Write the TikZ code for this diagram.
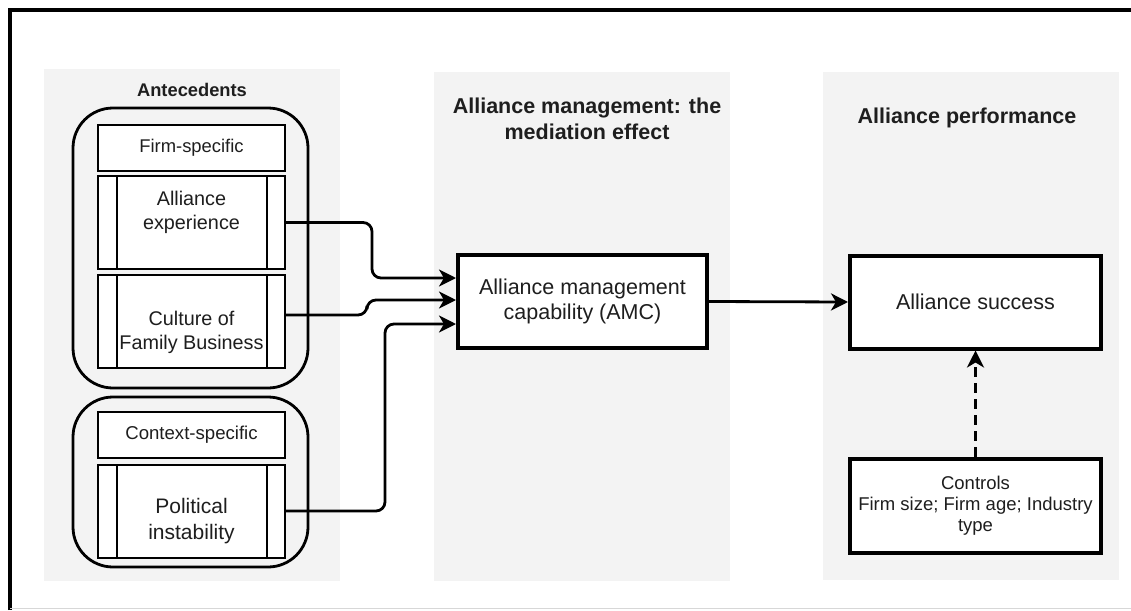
\documentclass[tikz,border=0pt]{standalone}
\usepackage{fontspec}
\setmainfont{Liberation Sans}
\usetikzlibrary{arrows.meta,calc}
\definecolor{panelgray}{RGB}{243,243,243}
\definecolor{txt}{RGB}{30,30,30}
\definecolor{botline}{RGB}{215,215,215}
\tikzset{
  panel/.style={fill=panelgray,draw=none},
  grp/.style={draw=black,line width=2.8pt,rounded corners=40pt},
  hdrbox/.style={draw=black,fill=white,line width=2pt,minimum width=187pt,minimum height=46pt,inner sep=0pt},
  procbox/.style={draw=black,fill=white,line width=2pt,minimum width=187pt,minimum height=93pt,inner sep=0pt},
  thickbox/.style={draw=black,fill=white,line width=4pt,minimum width=249pt,minimum height=93pt,inner sep=0pt,align=center,text=txt},
  lbl/.style={align=center,text=txt,inner sep=0pt},
  conn/.style={draw=black,line width=2.8pt,rounded corners=9pt,-{Stealth[length=17pt,width=17pt,inset=5pt]}},
  dconn/.style={draw=black,line width=3pt,dash pattern=on 10pt off 6pt,-{Stealth[length=17pt,width=17pt,inset=5pt]}},
}
\newcommand{\fs}[1]{\fontsize{#1pt}{\dimexpr #1pt*23/20\relax}\selectfont}
\begin{document}
\begin{tikzpicture}[x=1pt,y=-1pt]
\useasboundingbox (0,0) rectangle (1131,610);
\fill[white] (0,0) rectangle (1131,610);
% frame
\draw[line width=3.2pt] (10,610) -- (10,10) -- (1131,10);
\draw[botline,line width=1.5pt] (10,608.5) -- (1131,608.5);
% panels
\fill[panelgray] (44,69) rectangle (340,581);
\fill[panelgray] (434,72) rectangle (730,581);
\fill[panelgray] (823,72) rectangle (1119,580);
% titles
\node[lbl,font=\bfseries\fs{18.3}] (tA) at (192,90) {Antecedents};
\node[lbl,font=\bfseries\fs{21.5},align=center] (tB) at (587,119) {Alliance management: the\\[1pt]mediation effect};
\node[lbl,font=\bfseries\fs{21.5}] (tC) at (967,118) {Alliance performance};
% group containers
\draw[grp] (73,108) rectangle (308,388);
\draw[grp] (73,397) rectangle (308,567);
% firm-specific
\node[hdrbox] (fs) at (191.5,148) {};
\node[lbl,font=\fs{18.4}] at (fs.center) {Firm-specific};
\node[procbox] (ae) at (191.5,222.5) {};
\draw[line width=2pt] (117,176) -- (117,269) (267,176) -- (267,269);
\node[lbl,font=\fs{19.8}] (aet) at (191.5,212) {Alliance\\[1pt]experience};
\node[procbox] (cf) at (191.5,321.5) {};
\draw[line width=2pt] (117,275) -- (117,368) (267,275) -- (267,368);
\node[lbl,font=\fs{19.8}] (cft) at (191.5,332) {Culture of\\[1pt]Family Business};
% context-specific
\node[hdrbox] (cs) at (191.5,435) {};
\node[lbl,font=\fs{18.6}] at (cs.center) {Context-specific};
\node[procbox] (pi) at (191.5,511) {};
\draw[line width=2pt] (117,464) -- (117,558) (267,464) -- (267,558);
\node[lbl,font=\fs{21}] (pit) at (191.5,521) {Political\\[1pt]instability};
% main boxes
\node[thickbox,font=\fs{21.5}] (amc) at (582.5,301.5) {Alliance management\\[1pt]capability (AMC)};
\node[thickbox,minimum width=251pt,font=\fs{21.5}] (as) at (975.5,302) {Alliance success};
\node[thickbox,minimum width=251pt,minimum height=94pt,font=\fs{18.5}] (ctl) at (975.5,505.5) {Controls\\Firm size; Firm age; Industry\\type};
% connectors
\draw[conn] (ae.east) -- (372,222.5) -- (372,278) -- ([yshift=23.5pt]amc.west);
\draw[conn] ([yshift=6.5pt]cf.east) -- (367,315) -- (367,300) -- ([yshift=1.5pt]amc.west);
\draw[conn] (pi.east) -- (385,511) -- (385,324) -- ([yshift=-22.5pt]amc.west);
\draw[conn,rounded corners=0pt] (amc.east) -- (as.west);
\draw[dconn] (ctl.north) -- (as.south);
\end{tikzpicture}
\end{document}
